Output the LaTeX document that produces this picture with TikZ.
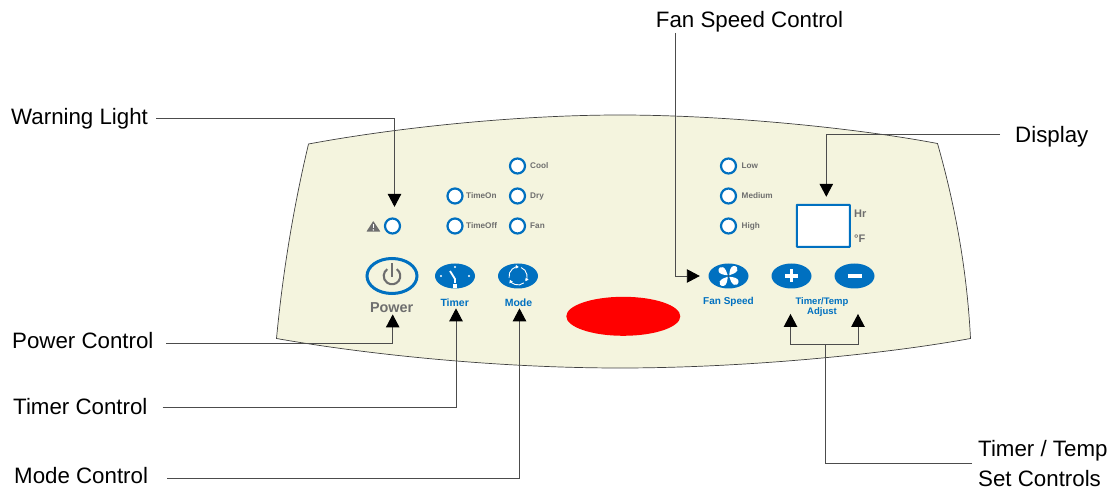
\documentclass[tikz,border=0pt]{standalone}
\usepackage{fontspec}
\setmainfont{Liberation Sans}
\usetikzlibrary{positioning,calc,arrows.meta,shapes.geometric}
\definecolor{panelcolor}{HTML}{F4F4DE}
\definecolor{ctrlblue}{HTML}{0070C0}
\definecolor{ctrlgray}{HTML}{6E6E6E}
\tikzstyle{line} = [draw=black!70,line width=0.9pt]
\tikzstyle{arrowline} = [line,-{Triangle[length=13pt,width=13.5pt,color=black]}]
\tikzstyle{callout} = [inner sep=0pt,anchor=west,align=left,font=\fontsize{22.3}{30}\selectfont]
\tikzstyle{onecallout} = [callout,text height=16pt,text depth=5.5pt]
\tikzstyle{led} = [circle,draw=ctrlblue,line width=2.2pt,fill=white,minimum size=15pt,inner sep=0pt]
\tikzstyle{ledtext} = [inner sep=0pt,anchor=west,text=ctrlgray,text height=6pt,text depth=0pt,font=\fontsize{8.2}{9}\selectfont\bfseries]
\tikzstyle{ctrlbtn} = [ellipse,fill=ctrlblue,minimum width=40pt,minimum height=25pt,inner sep=0pt]
\tikzstyle{ctrltext} = [inner sep=0pt,text=ctrlblue,align=center,font=\fontsize{10.5}{10.6}\selectfont\bfseries]

\begin{document}
\begin{tikzpicture}[auto,x=1pt,y=-1pt,node distance=30pt and 63pt,on grid]
                \useasboundingbox (0,0) rectangle (1109,489);
                \path[fill=panelcolor,draw=black!75,line width=0.7pt] (308.5,144) .. controls (400,127) and (520,115) .. (620,115)
                    .. controls (720,115) and (850,127) .. (937.5,143.5)
                    .. controls (955,205) and (967,270) .. (970.5,338.5)
                    .. controls (880,355) and (740,368) .. (620,368)
                    .. controls (500,368) and (370,355) .. (276.5,338.5)
                    .. controls (283,270) and (294,205) .. (308.5,144) -- cycle;
                % lights
                \node[led] (cool) at (517.5,166) {};
                \node[led,below=of cool] (dry) {};
                \node[led,below=of dry] (fan) {};
                \node[led,left=of dry,xshift=0.5pt] (timeon) {};
                \node[led,below=of timeon] (timeoff) {};
                \node[led,left=of timeoff,xshift=0.5pt] (warnled) {};
                \node[led] (low) at (728.5,166) {};
                \node[led,below=of low] (medium) {};
                \node[led,below=of medium] (high) {};
                \node[ledtext] (cooltext) at (530,166) {Cool};
                \node[ledtext] (drytext) at (530,196) {Dry};
                \node[ledtext] (fantext) at (530,226) {Fan};
                \node[ledtext] (timeontext) at (466,196) {TimeOn};
                \node[ledtext] (timeofftext) at (466,226) {TimeOff};
                \node[ledtext] (lowtext) at (741.5,166) {Low};
                \node[ledtext] (mediumtext) at (741.5,196) {Medium};
                \node[ledtext] (hightext) at (741.5,226) {High};
                % warning sign
                \fill[ctrlgray,rounded corners=0.5pt] (373.3,221) -- (380.4,231.7) -- (366.4,231.7) -- cycle;
                \draw[white,line width=1.4pt] (373.3,224.2) -- (373.3,228);
                \fill[white] (373.3,229.9) circle (0.8);
                % display
                \node[draw=ctrlblue,line width=2pt,fill=white,rounded corners=0.5pt,minimum width=53pt,minimum height=42pt,inner sep=0pt] (display) at (823.3,225.8) {};
                \node[inner sep=0pt,anchor=west,text=ctrlgray,font=\fontsize{11}{12}\selectfont\bfseries] (hrtext) at (854,214) {Hr};
                \node[inner sep=0pt,anchor=west,text=ctrlgray,font=\fontsize{11}{12}\selectfont\bfseries] (ftext) at (854,239) {°F};
                % buttons
                \node[ellipse,draw=ctrlblue,line width=3pt,fill=panelcolor,minimum width=50pt,minimum height=35pt,inner sep=0pt] (powerbtn) at (392,276) {};
                \node[ctrlbtn] (timerbtn) at (455,276) {};
                \node[ctrlbtn,right=of timerbtn] (modebtn) {};
                \node[ctrlbtn] (fanbtn) at (728.5,276) {};
                \node[ctrlbtn,right=of fanbtn] (plusbtn) {};
                \node[ctrlbtn,right=of plusbtn] (minusbtn) {};
                \node[ellipse,fill=red,minimum width=114pt,minimum height=39pt,inner sep=0pt] (redpatch) at (623.3,316.3) {};
                \node[inner sep=0pt,text=ctrlgray,font=\fontsize{14.4}{15}\selectfont\bfseries] (powertext) at (391.7,307.7) {Power};
                \node[ctrltext] (timertext) at (454.7,302.3) {Timer};
                \node[ctrltext] (modetext) at (518.5,302.3) {Mode};
                \node[ctrltext,font=\fontsize{10}{11}\selectfont\bfseries] (fantext2) at (728.5,301.7) {Fan Speed};
                \node[ctrltext,font=\fontsize{9.5}{10.6}\selectfont\bfseries] (adjusttext) at (822,307) {Timer/Temp\\Adjust};
                % icons
                \draw[ctrlgray,line width=2.1pt] (powerbtn.center) ++(-55:8.3) arc[start angle=-55,end angle=235,radius=8.3];
                \draw[ctrlgray,line width=2.1pt] (392,263.5) -- (392,277);
                \draw[white,line width=1.8pt] ($(timerbtn.center)+(-5,-5)$) -- ($(timerbtn.center)+(0,3)$) -- ($(timerbtn.center)+(0,7)$);
                \fill[white] ($(timerbtn.center)+(-1.8,8.3)$) rectangle ($(timerbtn.center)+(1.8,11.6)$);
                \foreach \px/\py in {-14/0,14/0,0/-9}
                    \fill[white] ($(timerbtn.center)+(\px,\py)$) circle (1.1);
                \foreach \a in {-70,50,170}
                    \draw[white,line width=0.9pt,-{Triangle[length=3pt,width=3.5pt]}] (modebtn.center) ++(\a:9) arc[start angle=\a,delta angle=105,radius=9];
                \foreach \a in {0,90,180,270}
                    \fill[white,shift={(fanbtn.center)},rotate=\a] (0.8,-0.8) .. controls (1,-5) and (2,-9.5) .. (5,-10)
                        .. controls (8.5,-10.3) and (9.5,-7.5) .. (8.8,-5.5) .. controls (7.5,-3.2) and (4,-1.5) .. (0.8,-0.8) -- cycle;
                \fill[black!70] (fanbtn.center) circle (0.8);
                \draw[white,line width=3.2pt] ($(plusbtn.center)+(-6.5,0)$) -- ($(plusbtn.center)+(6.5,0)$);
                \draw[white,line width=3.2pt] ($(plusbtn.center)+(0,-6.5)$) -- ($(plusbtn.center)+(0,6.5)$);
                \draw[white,line width=3.2pt] ($(minusbtn.center)+(-7,0)$) -- ($(minusbtn.center)+(7,0)$);
                % callouts
                \node[onecallout] (warnlabel) at (11,119.5) {Warning Light};
                \node[onecallout] (powerlabel) at (12,343.5) {Power Control};
                \node[onecallout] (timerlabel) at (13,409) {Timer Control};
                \node[onecallout] (modelabel) at (14,478) {Mode Control};
                \node[onecallout,anchor=center] (fanlabel) at (749.5,22) {Fan Speed Control};
                \node[onecallout] (displaylabel) at (1015,137.5) {Display};
                \node[callout] (setlabel) at (978,463.5) {Timer / Temp\\Set Controls};
                \coordinate (adjustjoin) at (825,344);
                \path [arrowline,shorten <=8pt,shorten >=10.5pt] ([yshift=1pt]warnlabel.east) -| ([xshift=2pt]warnled.north);
                \path [arrowline,shorten <=12.5pt,shorten >=1.5pt] (powerlabel.east) -| ([xshift=1pt]powertext.south);
                \path [arrowline,shorten <=15pt,shorten >=2pt] ([yshift=1.5pt]timerlabel.east) -| ([xshift=1.3pt]timertext.south);
                \path [arrowline,shorten <=19pt,shorten >=2pt] (modelabel.east) -| ([xshift=1pt]modetext.south);
                \path [arrowline,shorten >=8.5pt] ([xshift=-74pt]fanlabel.south) |- (fanbtn.west);
                \path [arrowline,shorten <=15pt,shorten >=7pt] ([yshift=3.5pt]displaylabel.west) -| ([xshift=3pt]display.north);
                \path [line,shorten <=6pt] ([yshift=0.5pt]setlabel.west) -| (adjustjoin);
                \path [arrowline] (adjustjoin) -| ([xshift=-31.5pt,yshift=3pt]adjusttext.south);
                \path [arrowline] (adjustjoin) -| ([xshift=36pt,yshift=3pt]adjusttext.south);
            \end{tikzpicture}
\end{document}
